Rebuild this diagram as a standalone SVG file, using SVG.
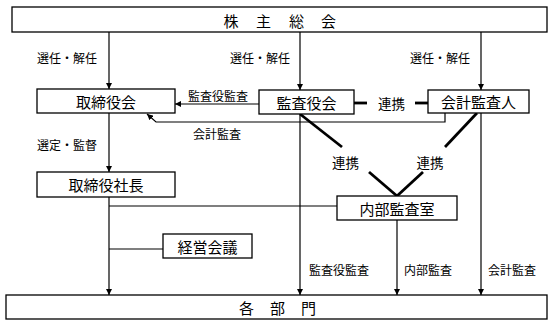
<svg xmlns="http://www.w3.org/2000/svg" width="554" height="325" viewBox="0 0 554 325">
<defs>
<marker id="arr" markerWidth="6" markerHeight="6" refX="6" refY="3" orient="auto" markerUnits="userSpaceOnUse">
<path d="M0,0 L6,3 L0,6 Z" fill="#000"/>
</marker>
<style>
.box{fill:#fff;stroke:#000;stroke-width:1.3}
.ln{fill:none;stroke:#000;stroke-width:1.2}
.thk{fill:none;stroke:#000;stroke-width:2.8}
.bt{font-family:"Noto Sans CJK JP",sans-serif;font-size:15px;fill:#000;dominant-baseline:central;text-anchor:middle}
.st{font-family:"Noto Sans CJK JP",sans-serif;font-size:12px;fill:#000;dominant-baseline:central}
.lt{font-family:"Noto Sans CJK JP",sans-serif;font-size:13.5px;fill:#000;dominant-baseline:central;text-anchor:middle}
</style>
</defs>
<rect width="554" height="325" fill="#fff"/>
<g id="connectors">
<line class="ln" x1="109" y1="32" x2="109" y2="89" marker-end="url(#arr)"/>
<line class="ln" x1="300" y1="32" x2="300" y2="90" marker-end="url(#arr)"/>
<line class="ln" x1="481" y1="32" x2="481" y2="90" marker-end="url(#arr)"/>
<line class="ln" x1="259" y1="104" x2="175" y2="104" marker-end="url(#arr)"/>
<polyline class="ln" points="445,113 445,122 156,122 147,114" marker-end="url(#arr)"/>
<line class="thk" x1="354" y1="103" x2="367" y2="103"/>
<line class="thk" x1="415" y1="103" x2="428" y2="103"/>
<line class="thk" x1="300" y1="114" x2="342" y2="147"/>
<line class="thk" x1="477" y1="113" x2="445" y2="147"/>
<line class="thk" x1="369" y1="172" x2="397" y2="196"/>
<line class="thk" x1="423" y1="172" x2="397" y2="196"/>
<line class="ln" x1="109" y1="113" x2="109" y2="172" marker-end="url(#arr)"/>
<line class="ln" x1="109" y1="197" x2="109" y2="295" marker-end="url(#arr)"/>
<line class="ln" x1="109" y1="206" x2="337" y2="206"/>
<line class="ln" x1="109" y1="249" x2="163" y2="249"/>
<line class="ln" x1="300" y1="114" x2="300" y2="295" marker-end="url(#arr)"/>
<line class="ln" x1="397" y1="220" x2="397" y2="295" marker-end="url(#arr)"/>
<line class="ln" x1="481" y1="113" x2="481" y2="295" marker-end="url(#arr)"/>
</g>
<g id="labels">
<text class="st" x="37" y="57">選任・解任</text>
<text class="st" x="230" y="57">選任・解任</text>
<text class="st" x="410" y="57">選任・解任</text>
<text class="st" x="188" y="95">監査役監査</text>
<text class="st" x="193" y="133">会計監査</text>
<text class="st" x="37" y="144">選定・監督</text>
<text class="lt" x="391.5" y="103">連携</text>
<text class="lt" x="345.5" y="162">連携</text>
<text class="lt" x="430" y="162">連携</text>
<text class="st" x="309" y="269">監査役監査</text>
<text class="st" x="404" y="269">内部監査</text>
<text class="st" x="488" y="269">会計監査</text>
</g>
<g id="shareholders">
<rect class="box" x="12" y="7" width="535" height="25"/>
<text class="bt" x="231 263.5 296.5 328.5" y="20">株主総会</text>
</g>
<g id="board">
<rect class="box" x="37" y="89" width="138" height="24"/>
<text class="bt" x="106" y="101">取締役会</text>
</g>
<g id="auditors">
<rect class="box" x="259" y="90" width="95" height="24"/>
<text class="bt" x="306.5" y="102">監査役会</text>
</g>
<g id="accounting-auditor">
<rect class="box" x="428" y="90" width="101" height="23"/>
<text class="bt" x="478.5" y="101.5">会計監査人</text>
</g>
<g id="president">
<rect class="box" x="37" y="172" width="138" height="25"/>
<text class="bt" x="106" y="184.5">取締役社長</text>
</g>
<g id="internal-audit">
<rect class="box" x="337" y="196" width="120" height="24"/>
<text class="bt" x="397" y="208">内部監査室</text>
</g>
<g id="management-meeting">
<rect class="box" x="163" y="234" width="89" height="24"/>
<text class="bt" x="207.5" y="246">経営会議</text>
</g>
<g id="departments">
<rect class="box" x="6" y="295" width="541" height="24"/>
<text class="bt" x="246.5 277.5 308.5" y="307">各部門</text>
</g>
</svg>
